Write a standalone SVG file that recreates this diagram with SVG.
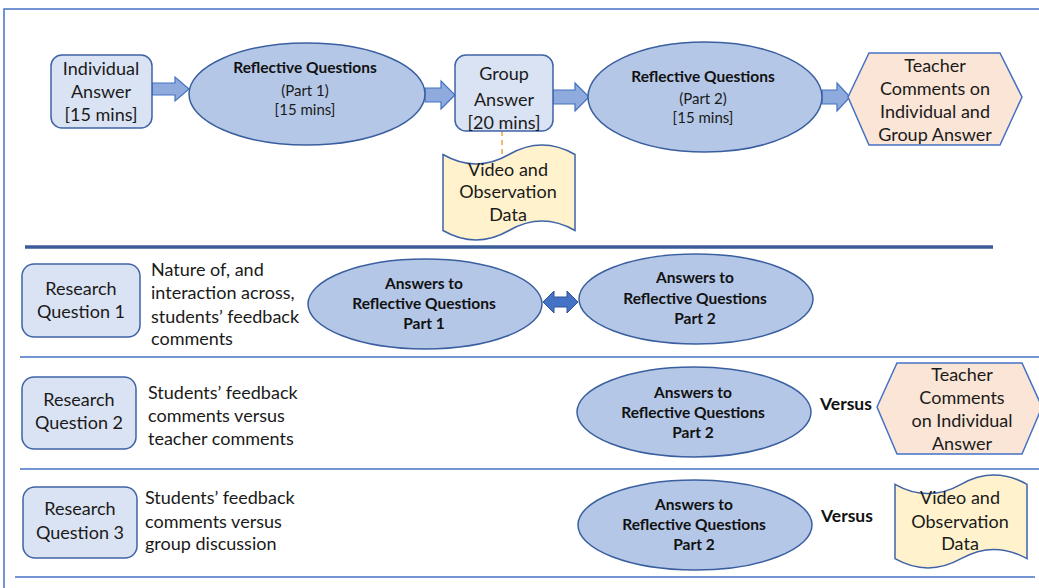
<svg xmlns="http://www.w3.org/2000/svg" width="1039" height="588" viewBox="0 0 1039 588">
<style>
.t{font-family:Lato,"Liberation Sans",sans-serif;font-size:18px;fill:#1a1a1a;text-anchor:middle}
.l{font-family:Lato,"Liberation Sans",sans-serif;font-size:18px;fill:#1a1a1a;text-anchor:start}
.b{font-family:Lato,"Liberation Sans",sans-serif;font-size:15.5px;font-weight:bold;fill:#111;text-anchor:middle}
.s{font-family:Lato,"Liberation Sans",sans-serif;font-size:15px;fill:#1a1a1a;text-anchor:middle}
.v{font-family:Lato,"Liberation Sans",sans-serif;font-size:17.5px;font-weight:bold;fill:#111;text-anchor:middle}
.box{fill:#dae3f3;stroke:#3f63a6;stroke-width:1.5}
.ell{fill:#b4c7e7;stroke:#3a5f9f;stroke-width:1.5}
.hex{fill:#fbe5d6;stroke:#4472c4;stroke-width:1.5}
.doc{fill:#fff2cc;stroke:#3f63a6;stroke-width:1.5}
.arr{fill:#8faadc;stroke:#4472c4;stroke-width:1.2}
.dbl{fill:#4472c4;stroke:#2f5597;stroke-width:1}
.sep{stroke:#4472c4;stroke-width:1.5;fill:none}
</style>
<rect width="1039" height="588" fill="#ffffff"/>
<g id="frame">
<path class="sep" d="M4,588 V9 H1039" stroke-width="2"/>
<line x1="25" y1="247" x2="993" y2="247" stroke="#3c5d99" stroke-width="3.5"/>
<line class="sep" x1="20" y1="357" x2="1039" y2="357"/>
<line class="sep" x1="20" y1="469" x2="1039" y2="469"/>
<line class="sep" x1="15" y1="577" x2="1035" y2="577"/>
</g>
<g id="connectors">
<path class="arr" d="M152,83 H175 V77 L189,89 L175,101 V95 H152 Z"/>
<path class="arr" d="M425,88 H441 V81 L455,95 L441,109 V102 H425 Z"/>
<path class="arr" d="M553,90 H575 V83 L589,97 L575,111 V104 H553 Z"/>
<path class="arr" d="M822,90 H837 V83 L850,97 L837,111 V104 H822 Z"/>
<path class="dbl" d="M543,302 L554,291 V297 H567 V291 L578,302 L567,313 V307 H554 V313 Z"/>
<line x1="502" y1="131" x2="502" y2="155" stroke="#e8a840" stroke-width="1.5" stroke-dasharray="5,4"/>
</g>
<g id="individual-answer">
<rect class="box" x="51" y="55" width="101" height="73" rx="11"/>
<text class="t" x="101" y="75">Individual</text>
<text class="t" x="101" y="98">Answer</text>
<text class="t" x="101" y="121">[15 mins]</text>
</g>
<g id="reflective-q1">
<ellipse class="ell" cx="307" cy="94" rx="118" ry="51"/>
<text class="b" x="305" y="73">Reflective Questions</text>
<text class="s" x="305" y="96">(Part 1)</text>
<text class="s" x="305" y="115">[15 mins]</text>
</g>
<g id="video-data-top">
<path class="doc" d="M443,154.5 Q476,173.5 509,154.5 Q542,135.5 575,154.5 L575,230.5 Q542,211.5 509,230.5 Q476,249.5 443,230.5 Z"/>
<text class="t" x="508" y="176">Video and</text>
<text class="t" x="508" y="198">Observation</text>
<text class="t" x="508" y="221">Data</text>
</g>
<g id="group-answer">
<rect class="box" x="455" y="55" width="98" height="76" rx="11"/>
<text class="t" x="504" y="80">Group</text>
<text class="t" x="504" y="106">Answer</text>
<text class="t" x="504" y="129">[20 mins]</text>
</g>
<g id="reflective-q2">
<ellipse class="ell" cx="705" cy="97" rx="117" ry="55"/>
<text class="b" x="703" y="82">Reflective Questions</text>
<text class="s" x="703" y="104">(Part 2)</text>
<text class="s" x="703" y="123">[15 mins]</text>
</g>
<g id="teacher-comments-top">
<polygon class="hex" points="848,97 869,53 1000,53 1022,97 1000,145 869,145"/>
<text class="t" x="935" y="72">Teacher</text>
<text class="t" x="935" y="95">Comments on</text>
<text class="t" x="935" y="118">Individual and</text>
<text class="t" x="935" y="141">Group Answer</text>
</g>
<g id="rq1">
<rect class="box" x="22" y="264" width="118" height="73" rx="12"/>
<text class="t" x="81" y="295">Research</text>
<text class="t" x="81" y="318">Question 1</text>
<text class="l" x="151" y="276">Nature of, and</text>
<text class="l" x="151" y="299">interaction across,</text>
<text class="l" x="151" y="323">students’ feedback</text>
<text class="l" x="151" y="345">comments</text>
</g>
<g id="rq1-answers-p1">
<ellipse class="ell" cx="425" cy="304" rx="117" ry="45"/>
<text class="b" x="424" y="289">Answers to</text>
<text class="b" x="424" y="309">Reflective Questions</text>
<text class="b" x="424" y="329">Part 1</text>
</g>
<g id="rq1-answers-p2">
<ellipse class="ell" cx="696" cy="299" rx="117" ry="45"/>
<text class="b" x="695" y="283">Answers to</text>
<text class="b" x="695" y="304">Reflective Questions</text>
<text class="b" x="695" y="324">Part 2</text>
</g>
<g id="rq2">
<rect class="box" x="22" y="377" width="114" height="72" rx="12"/>
<text class="t" x="79" y="406">Research</text>
<text class="t" x="79" y="429">Question 2</text>
<text class="l" x="148" y="399">Students’ feedback</text>
<text class="l" x="148" y="422">comments versus</text>
<text class="l" x="148" y="445">teacher comments</text>
</g>
<g id="rq2-answers-p2">
<ellipse class="ell" cx="694" cy="412" rx="117" ry="45"/>
<text class="b" x="693" y="398">Answers to</text>
<text class="b" x="693" y="418">Reflective Questions</text>
<text class="b" x="693" y="438">Part 2</text>
<text class="v" x="846" y="410">Versus</text>
</g>
<g id="rq2-teacher">
<polygon class="hex" points="877,407 897,363 1022,363 1042,407 1022,454 897,454"/>
<text class="t" x="962" y="381">Teacher</text>
<text class="t" x="962" y="404">Comments</text>
<text class="t" x="962" y="427">on Individual</text>
<text class="t" x="962" y="450">Answer</text>
</g>
<g id="rq3">
<rect class="box" x="23" y="487" width="114" height="71" rx="12"/>
<text class="t" x="80" y="515">Research</text>
<text class="t" x="80" y="539">Question 3</text>
<text class="l" x="145" y="504">Students’ feedback</text>
<text class="l" x="145" y="528">comments versus</text>
<text class="l" x="145" y="550">group discussion</text>
</g>
<g id="rq3-answers-p2">
<ellipse class="ell" cx="695" cy="525" rx="117" ry="45"/>
<text class="b" x="694" y="510">Answers to</text>
<text class="b" x="694" y="530">Reflective Questions</text>
<text class="b" x="694" y="550">Part 2</text>
<text class="v" x="847" y="522">Versus</text>
</g>
<g id="rq3-video">
<path class="doc" d="M895,484.3 Q928,502.9 961,484.3 Q994,465.7 1027,484.3 L1027,558.7 Q994,540.1 961,558.7 Q928,577.3 895,558.7 Z"/>
<text class="t" x="960" y="504">Video and</text>
<text class="t" x="960" y="528">Observation</text>
<text class="t" x="960" y="550">Data</text>
</g>
</svg>
